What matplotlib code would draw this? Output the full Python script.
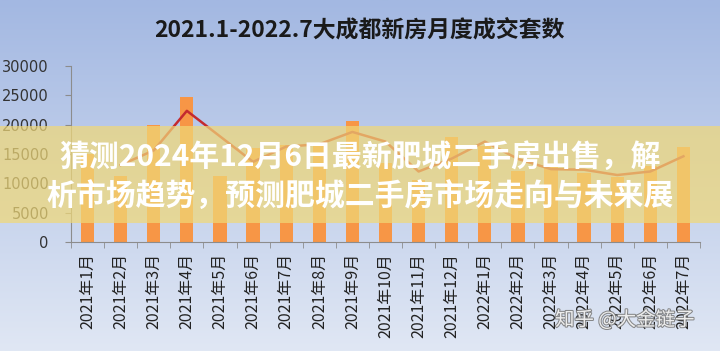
import numpy as np
import matplotlib
matplotlib.use("Agg")
import matplotlib.pyplot as plt
from matplotlib.patches import Rectangle
import matplotlib.patheffects as pe

plt.rcParams['font.family'] = ['Noto Sans CJK SC', 'DejaVu Sans']

# monthly new-home deals
months = ["2021年1月", "2021年2月", "2021年3月", "2021年4月", "2021年5月",
          "2021年6月", "2021年7月", "2021年8月", "2021年9月", "2021年10月",
          "2021年11月", "2021年12月", "2022年1月", "2022年2月", "2022年3月",
          "2022年4月", "2022年5月", "2022年6月", "2022年7月"]
deals = [15000, 11200, 20000, 24700, 11300, 16000, 16500, 16800, 20700, 13500,
         10500, 17900, 16300, 12000, 12800, 11800, 11000, 13000, 16200]
# trend line (starts at the 2nd month)
trend = [np.nan, 13100, 15600, 22350, 18000, 13650, 16250, 16650, 18750, 17100,
         12000, 14200, 17100, 14150, 12400, 12300, 11400, 12000, 14600]
yticks = [0, 5000, 10000, 15000, 20000, 25000, 30000]

title = "2021.1-2022.7大成都新房月度成交套数"
banner_lines = ["猜测2024年12月6日最新肥城二手房出售，解",
                "析市场趋势，预测肥城二手房市场走向与未来展"]
watermark = "知乎 @大金链子"

fig = plt.figure(figsize=(7.2, 3.51), dpi=100)

# gradient background
bg = fig.add_axes([0, 0, 1, 1], zorder=-10)
top = np.array([163, 184, 226]) / 255
bot = np.array([224, 231, 244]) / 255
t = np.linspace(0, 1, 256)[:, None]
grad = top * (1 - t) + bot * t
bg.imshow(grad[:, None, :], aspect="auto", extent=[0, 1, 0, 1])
bg.axis("off")

ax = fig.add_axes([0.0986, 0.311, 0.8736, 0.501])
ax.patch.set_alpha(0)
x = np.arange(len(months))
ax.bar(x, deals, width=0.4, color="#F79646", zorder=2)
ax.plot(x, trend, color="#C42A2F", lw=1.8, zorder=3)

ax.set_xlim(-0.5, len(months) - 0.5)
ax.set_ylim(0, 30000)
ax.set_yticks(yticks)
ax.set_yticklabels([str(v) for v in yticks], fontsize=10.5, color="#333333",
                   family="DejaVu Sans")
ax.set_xticks(x)
ax.set_xticklabels(months, rotation=90, fontsize=11.5, color="#222222")
ax.set_xticks(np.arange(len(months) + 1) - 0.5, minor=True)
ax.tick_params(axis="x", which="major", length=0, pad=8)
ax.tick_params(axis="x", which="minor", length=4, color="#8c8c8c")
ax.tick_params(axis="y", length=4, color="#8c8c8c", pad=12)
for s in ["top", "right"]:
    ax.spines[s].set_visible(False)
for s in ["left", "bottom"]:
    ax.spines[s].set_color("#8c8c8c")

fig.text(0.499, 0.915, title, ha="center", va="center", fontsize=16.5,
         fontweight="bold", color="#1a1a1a")

# overlay banner
fig.add_artist(Rectangle((0, 0.365), 1, 0.276, transform=fig.transFigure,
                         facecolor=(240/255, 216/255, 120/255), alpha=0.72,
                         edgecolor="none", zorder=5))
fig.text(0.5, 0.553, banner_lines[0], ha="center", va="center", fontsize=21.5,
         fontweight="bold", color="white", zorder=6)
fig.text(0.5, 0.439, banner_lines[1], ha="center", va="center", fontsize=21.5,
         fontweight="bold", color="white", zorder=6)

fig.text(0.868, 0.088, watermark, ha="center", va="center", fontsize=14,
         color="white", alpha=0.85, zorder=6,
         path_effects=[pe.withStroke(linewidth=1.5, foreground="#777777")])

fig.savefig("out.png", dpi=100)
